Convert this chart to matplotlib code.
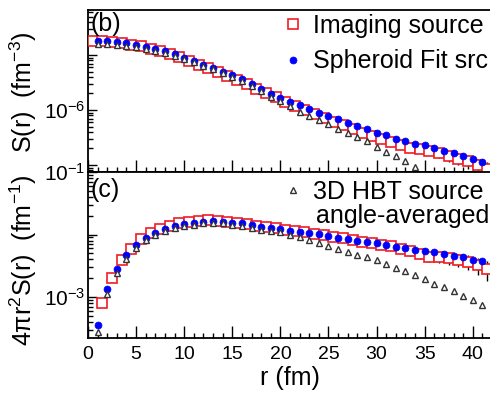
import numpy as np
import matplotlib
matplotlib.use("Agg")
import matplotlib.pyplot as plt
from matplotlib.ticker import FixedLocator, FuncFormatter, LogLocator, MultipleLocator, NullFormatter

plt.rcParams['font.family'] = ['Liberation Sans', 'DejaVu Sans']
plt.rcParams['mathtext.fontset'] = 'custom'
plt.rcParams['mathtext.rm'] = 'Liberation Sans'
plt.rcParams['mathtext.it'] = 'Liberation Sans:italic'
plt.rcParams['mathtext.default'] = 'regular'

# ---------------- data ----------------
r_int = np.arange(1, 42)            # 1..41 fm
r_half = np.arange(0.5, 42.0, 1.0)  # 0.5..41.5 fm

# panel (b): S(r) in units of 1e-6 fm^-3
S_img = np.array([17.6, 17.6, 17.2, 16.5, 15.5, 14.3, 13.1, 11.8, 10.4, 9.2,
                  7.8, 6.7, 5.8, 4.81, 4.07, 3.44, 2.97, 2.46, 2.04, 1.69,
                  1.40, 1.18, 1.00, 0.846, 0.715, 0.605, 0.523, 0.451, 0.390, 0.337,
                  0.297, 0.262, 0.231, 0.208, 0.195, 0.183, 0.165, 0.146, 0.131, 0.118,
                  0.100, 0.0846])
S_sph = np.array([18.0, 17.6, 16.9, 16.2, 15.2, 14.0, 12.9, 11.6, 10.4, 9.0,
                  7.8, 6.7, 5.8, 5.0, 4.24, 3.59, 2.91, 2.41, 1.95, 1.65,
                  1.40, 1.21, 1.04, 0.90, 0.78, 0.686, 0.592, 0.512, 0.451, 0.390,
                  0.344, 0.303, 0.268, 0.246, 0.231, 0.208, 0.183, 0.162, 0.146, 0.1285,
                  0.113])
S_hbt = np.array([15.9, 15.9, 15.2, 14.6, 13.7, 12.9, 11.8, 10.9, 9.6, 8.46,
                  7.46, 6.44, 5.57, 4.71, 3.98, 3.30, 2.68, 2.17, 1.76, 1.43,
                  1.16, 0.939, 0.778, 0.658, 0.557, 0.461, 0.382, 0.323, 0.268, 0.217,
                  0.176, 0.143, 0.116, 0.0939])

# panel (c): 4 pi r^2 S(r) in units of 1e-3 fm^-1
V_img = np.array([0.793, 2.04, 3.91, 5.86, 8.38, 10.45, 12.1, 13.7, 15.1, 16.0,
                  16.6, 17.1, 16.6, 16.0, 15.3, 14.7, 13.9, 13.2, 12.5, 11.8,
                  11.2, 10.8, 10.2, 9.64, 9.12, 8.63, 8.17, 7.59, 7.18, 6.79,
                  6.43, 5.86, 5.35, 4.79, 4.41, 4.32, 4.16, 3.91, 3.67, 3.25,
                  2.77])
V_sph = np.array([0.356, 1.33, 2.77, 4.70, 6.79, 8.69, 10.7, 12.1, 13.7, 14.7,
                  15.45, 16.0, 16.4, 16.0, 15.45, 15.0, 14.2, 13.4, 12.7, 12.1,
                  11.5, 11.1, 10.7, 10.2, 9.46, 8.95, 8.47, 7.96, 7.45, 7.18,
                  6.79, 6.38, 6.02, 5.75, 5.45, 5.25, 4.88, 4.61, 4.29, 3.98,
                  3.81])
V_hbt = np.array([0.275, 1.12, 2.42, 4.06, 6.08, 8.02, 9.82, 11.4, 12.7, 13.7,
                  14.45, 15.0, 15.3, 15.0, 14.45, 13.7, 12.7, 12.0, 11.4, 10.8,
                  10.0, 9.12, 8.17, 7.31, 6.55, 5.97, 5.31, 4.70, 4.29, 3.84,
                  3.37, 2.96, 2.56, 2.21, 1.94, 1.64, 1.445, 1.225, 1.037, 0.895,
                  0.745])

# relative uncertainty of the imaging source (r = 0.5 .. 41.5)
rel_err = np.array([0, 0, 0, 0, 0, 0, 0, 0, 0, 0,
                    0, 0, 0, 0, 0, 0, 0, 0, 0, 0,
                    0, 0, 0, 0, 0, 0.05, 0.06, 0.07, 0.08, 0.09,
                    0.10, 0.11, 0.12, 0.14, 0.16, 0.18, 0.20, 0.22, 0.24, 0.27,
                    0.30, 0.35])

legend_labels = ["Imaging source", "Spheroid Fit src", "3D HBT source"]
legend_extra = "angle-averaged"

# ---------------- figure ----------------
W, H = 490, 395
fig = plt.figure(figsize=(W / 100, H / 100), dpi=100)
ax1 = fig.add_axes([88 / W, 1 - 172 / H, 404 / W, 162 / H])
ax2 = fig.add_axes([88 / W, 1 - 338 / H, 404 / W, 166 / H])

RED = '#ee1c24'
BLUE = '#0000ff'
GREY = '#333333'

def draw(ax, ri, yi, err, rs, ys, rh, yh, scale):
    yi = yi * scale
    ax.errorbar(ri, yi, yerr=err * yi, fmt='none', ecolor='black', elinewidth=1.0,
                capsize=0, zorder=2)
    h1, = ax.plot(ri, yi, 's', ms=6.5, mfc='white', mec=RED, mew=1.2, zorder=3)
    h2, = ax.plot(rs, ys * scale, 'o', ms=5.0, mfc=BLUE, mec=BLUE, mew=0.5, zorder=4)
    h3, = ax.plot(rh, yh * scale, '^', ms=4.8, mfc='white', mec=GREY, mew=1.0, zorder=5)
    return h1, h2, h3

h1, h2, h3 = draw(ax1, r_half, S_img, rel_err, r_int, S_sph,
                  r_int[:len(S_hbt)], S_hbt, 1e-6)
draw(ax2, r_half[1:], V_img, rel_err[1:], r_int, V_sph, r_int, V_hbt, 1e-3)

for ax in (ax1, ax2):
    ax.set_yscale('log')
    ax.set_xlim(0, 42)
    ax.xaxis.set_major_locator(MultipleLocator(5))
    ax.xaxis.set_minor_locator(MultipleLocator(1))
    ax.yaxis.set_minor_locator(LogLocator(base=10, subs=np.arange(2, 10), numticks=50))
    ax.yaxis.set_minor_formatter(NullFormatter())
    ax.tick_params(axis='x', which='major', direction='in', length=8.5, width=1.0,
                   top=False, bottom=True, labelsize=14, pad=6)
    ax.tick_params(axis='x', which='minor', direction='in', length=3.8, width=1.0,
                   top=False, bottom=True)
    ax.tick_params(axis='y', which='major', direction='in', length=6.5, width=1.0,
                   left=True, right=False, labelsize=15, pad=2)
    ax.tick_params(axis='y', which='minor', direction='in', length=3.5, width=1.0,
                   left=True, right=False)
    for s in ax.spines.values():
        s.set_linewidth(1.3)

ax1.set_ylim(10 ** -7.127, 10 ** -4.182)
ax2.set_ylim(10 ** -3.656, 10 ** -1.0)

ax1.yaxis.set_major_locator(FixedLocator([1e-7, 1e-6, 1e-5]))
ax1.yaxis.set_major_formatter(FuncFormatter(
    lambda v, p: r'$10^{-6}$' if abs(np.log10(v) + 6) < 0.01 else ''))
ax2.yaxis.set_major_locator(FixedLocator([1e-3, 1e-2, 1e-1]))
ax2.yaxis.set_major_formatter(FuncFormatter(
    lambda v, p: r'$10^{%d}$' % round(np.log10(v)) if round(np.log10(v)) in (-1, -3) else ''))

ax1.tick_params(axis='x', labelbottom=False)

ax1.set_ylabel(r'S(r)  (fm$^{-3}$)', fontsize=18)
ax2.set_ylabel(r'4$\pi$r$^{2}$S(r)  (fm$^{-1}$)', fontsize=18)
ax1.yaxis.set_label_coords(-0.121, 0.49)
ax2.yaxis.set_label_coords(-0.121, 0.47)
ax2.set_xlabel('r (fm)', fontsize=18, labelpad=2)

ax1.text(0.007, 0.985, '(b)', transform=ax1.transAxes, fontsize=18, va='top', ha='left')
ax2.text(0.007, 0.965, '(c)', transform=ax2.transAxes, fontsize=18, va='top', ha='left')

ax1.legend([h1, h2], legend_labels[:2], loc='upper left', bbox_to_anchor=(0.4765, 0.975),
           frameon=False, fontsize=18, handlelength=1.0, handletextpad=0.3,
           borderpad=0, borderaxespad=0, labelspacing=0.45)
ax2.legend([h3], legend_labels[2:], loc='upper left', bbox_to_anchor=(0.4765, 0.952),
           frameon=False, fontsize=18, handlelength=1.0, handletextpad=0.3,
           borderpad=0, borderaxespad=0)
ax2.text((316 - 88) / 404, (338 - 216) / 166, legend_extra, transform=ax2.transAxes,
         fontsize=18, va='center', ha='left')

fig.savefig('out.png', dpi=100)
